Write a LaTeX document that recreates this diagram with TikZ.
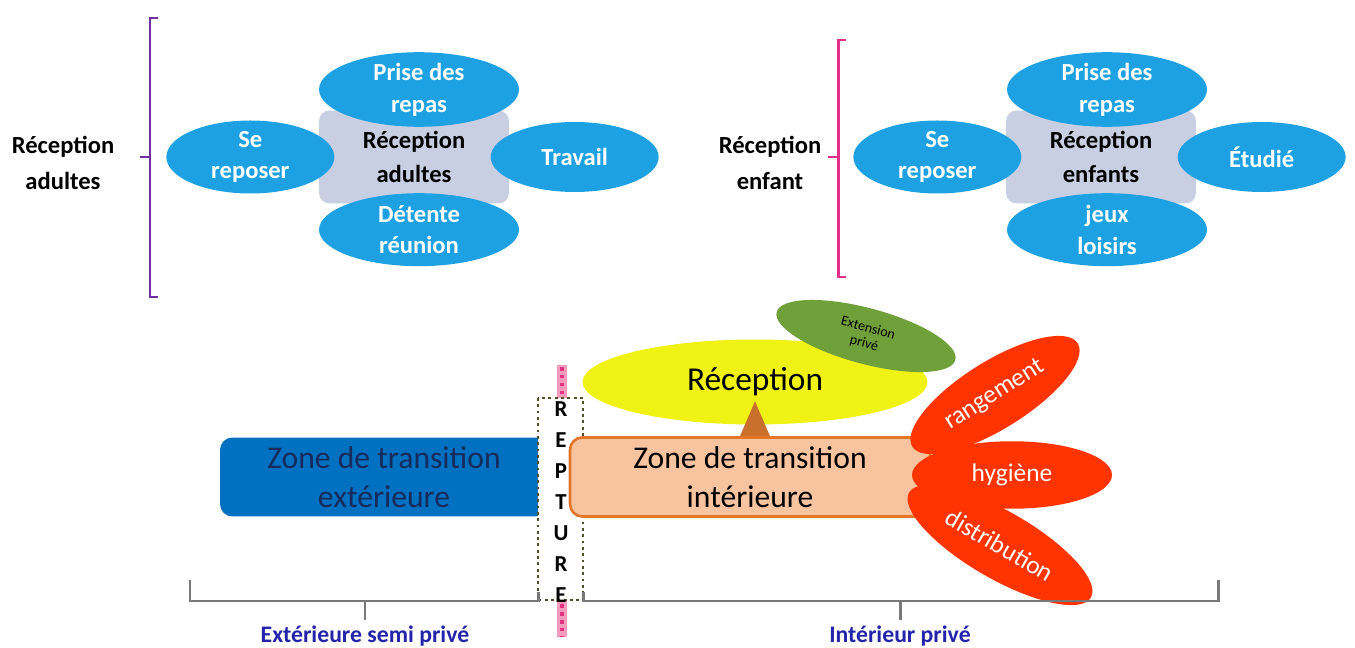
\documentclass[tikz,border=0pt]{standalone}
\usepackage{fontspec}
\setmainfont{Carlito}
\usepackage{xcolor}
\usepackage{tikz}
\usetikzlibrary{shapes.geometric,positioning}

\definecolor{petalblue}{RGB}{30,161,226}
\definecolor{hubgray}{RGB}{200,207,226}
\definecolor{adultpurple}{RGB}{112,48,160}
\definecolor{childpink}{RGB}{228,46,140}
\definecolor{zoneblue}{RGB}{0,112,192}
\definecolor{zonenavy}{RGB}{22,42,92}
\definecolor{zonepeach}{RGB}{248,196,160}
\definecolor{zoneorange}{RGB}{228,118,40}
\definecolor{arrowbrown}{RGB}{200,112,44}
\definecolor{recyellow}{RGB}{240,242,20}
\definecolor{extgreen}{RGB}{112,160,58}
\definecolor{servred}{RGB}{255,52,0}
\definecolor{brkgray}{RGB}{120,120,120}
\definecolor{lblblue}{RGB}{36,36,170}
\definecolor{breakpink}{RGB}{245,155,190}
\definecolor{breakdot}{RGB}{226,50,130}
\definecolor{dotolive}{RGB}{80,80,40}

\begin{document}
\begin{tikzpicture}[x=0.02cm, y=-0.02cm, node distance=1cm,
    petal/.style={ellipse, fill=petalblue, text=white, align=center, inner sep=0pt,
        font=\bfseries\fontsize{14}{18}\selectfont, minimum width=4cm, minimum height=1.46cm},
    sidepetal/.style={petal, minimum width=3.36cm, minimum height=1.4cm},
    hub/.style={rectangle, rounded corners=6pt, fill=hubgray, minimum width=3.8cm,
        minimum height=1.86cm, align=center, font=\bfseries\fontsize{14}{19}\selectfont},
    grouplabel/.style={align=center, font=\bfseries\fontsize{14}{20}\selectfont},
    zone/.style={rectangle, rounded corners=7pt, minimum height=1.58cm, align=center,
        font=\fontsize{18}{22}\selectfont},
    service/.style={ellipse, fill=servred, text=white, inner sep=0pt,
        font=\fontsize{14.5}{16}\selectfont, minimum height=1.35cm},
    bracket/.style={line width=1.7pt},
    sidelabel/.style={text=lblblue, font=\bfseries\fontsize{13.5}{16}\selectfont}]

    \useasboundingbox (0,0) rectangle (1355,648);

    % adults
    \node[grouplabel] (LA) at (63,163) {Réception\\adultes};
    \draw[bracket, adultpurple] (158,18) -- (150,18) -- (150,297) -- (158,297);
    \draw[bracket, adultpurple] (150,157) -- (140,157);

    \node[hub] (RA) at (414,157) {Réception\\adultes};
    \node[petal, above=-0.34cm of RA, xshift=0.1cm] (RAtop) {Prise des\\repas};
    \node[sidepetal, left=-0.32cm of RA] (RAleft) {Se\\reposer};
    \node[sidepetal, right=-0.38cm of RA] (RAright) {Travail};
    \node[petal, below=-0.22cm of RA, xshift=0.1cm] (RAbottom) {Détente\\réunion};

    % children
    \node[grouplabel] (LE) at (770,163) {Réception\\enfant};
    \draw[bracket, childpink] (846,40) -- (838,40) -- (838,277) -- (846,277);
    \draw[bracket, childpink] (838,157) -- (828,157);

    \node[hub] (RE) at (1101,157) {Réception\\enfants};
    \node[petal, above=-0.34cm of RE, xshift=0.12cm] (REtop) {Prise des\\repas};
    \node[sidepetal, left=-0.32cm of RE] (REleft) {Se\\reposer};
    \node[sidepetal, right=-0.38cm of RE] (REright) {Étudié};
    \node[petal, below=-0.22cm of RE, xshift=0.12cm] (REbottom) {jeux\\loisirs};

    % reception and extension
    \node[ellipse, fill=recyellow, minimum width=6.9cm, minimum height=1.7cm,
        font=\fontsize{19}{22}\selectfont] (REC) at (755,382) {Réception};
    \node[ellipse, fill=extgreen, rotate=-15, minimum width=3.7cm, minimum height=1.1cm,
        align=center, font=\fontsize{8}{9}\selectfont] (EXT) at (866,336) {Extension\\privé};

    % rupture between outside and inside
    \draw[line width=5.5pt, breakpink] (562,365) -- (562,637);
    \draw[line width=2.2pt, breakdot, dash pattern=on 2pt off 2.5pt] (562,367) -- (562,637);
    \node[zone, fill=zoneblue, text=zonenavy, minimum width=6.56cm] (ZE) at (384,477)
        {Zone de transition\\extérieure};
    \draw[dotted, line width=1.6pt, dotolive, fill=white] (538,398) rectangle (583,600);
    \node[zone, fill=zonepeach, draw=zoneorange, line width=1.5pt, minimum width=7.2cm]
        (ZI) at (750,477) {Zone de transition\\intérieure};
    \node[align=center, font=\bfseries\fontsize{13}{17.6}\selectfont] (RUP) at (561,502)
        {R\\E\\P\\T\\U\\R\\E};

    \fill[arrowbrown] ([xshift=-0.2cm]ZI.north) -- ([xshift=0.1cm, yshift=0.7cm]ZI.north)
        -- ([xshift=0.4cm]ZI.north) -- cycle;

    % services
    \node[service, rotate=32, minimum width=3.9cm] (RNG) at (995,395) {rangement};
    \node[service, rotate=-30, minimum width=4.2cm] (DST) at (1000,545) {distribution};
    \node[service, minimum width=4cm] (HYG) at (1012,475) {hygiène};

    % outside / inside
    \node[sidelabel] (EXS) at (365,636) {Extérieure semi privé};
    \node[sidelabel] (INP) at (900,636) {Intérieur privé};
    \draw[bracket, brkgray] (190,580) -- (190,601) -- (538,601) -- (538,592);
    \draw[bracket, brkgray] (365,601) -- (EXS);
    \draw[bracket, brkgray] (583,592) -- (583,601) -- (1218,601) -- (1218,580);
    \draw[bracket, brkgray] (900,601) -- (INP);
\end{tikzpicture}
\end{document}
